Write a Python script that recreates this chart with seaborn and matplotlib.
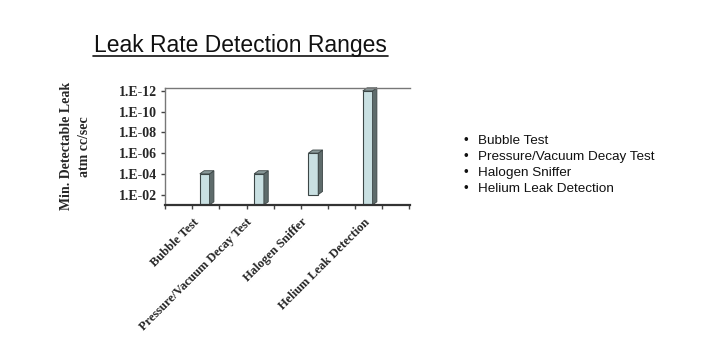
import matplotlib
matplotlib.use("Agg")
import matplotlib.pyplot as plt
import seaborn as sns
import pandas as pd
import numpy as np
from matplotlib.patches import Polygon
from matplotlib.lines import Line2D

# Datos (exponente de -log10 de la fuga mínima detectable)
metodos = ["Bubble Test", "Pressure/Vacuum Decay Test", "Halogen Sniffer", "Helium Leak Detection"]
base = [1.0, 1.0, 2.0, 1.0]      # inicio de cada barra
tope = [4.0, 4.0, 6.0, 12.0]     # 1.E-04, 1.E-04, 1.E-06, 1.E-12
y_ticks = [2, 4, 6, 8, 10, 12]
y_labels = ["1.E-02", "1.E-04", "1.E-06", "1.E-08", "1.E-10", "1.E-12"]

df = pd.DataFrame({"metodo": metodos, "base": base, "tope": tope})
df["alto"] = df["tope"] - df["base"]

sns.set_style("white")
fig = plt.figure(figsize=(7.27, 3.57), dpi=100)
ax = fig.add_axes([0.227, 0.426, 0.337, 0.328])

sns.barplot(data=df, x="metodo", y="alto", bottom=df["base"].values,
            color="#c9e0e2", edgecolor="#3c4646", linewidth=0.8,
            width=0.18, saturation=1, ax=ax)

# efecto 3D: cara lateral y tapa
dx, dy = 0.08, 0.3
for p in ax.patches:
    x0, y0 = p.get_x(), p.get_y()
    x1, y1 = x0 + p.get_width(), y0 + p.get_height()
    ax.add_patch(Polygon([(x1, y0), (x1 + dx, y0 + dy), (x1 + dx, y1 + dy), (x1, y1)],
                         closed=True, facecolor="#5e6b6b", edgecolor="#3c4646",
                         linewidth=0.6, clip_on=False))
    ax.add_patch(Polygon([(x0, y1), (x0 + dx, y1 + dy), (x1 + dx, y1 + dy), (x1, y1)],
                         closed=True, facecolor="#8a9a9a", edgecolor="#3c4646",
                         linewidth=0.6, clip_on=False))

ax.set_xlim(-0.7, 3.78)
ax.set_ylim(1.0, 12.3)
ax.set_yticks(y_ticks)
ax.set_yticklabels(y_labels, family="Liberation Serif", fontweight="bold", fontsize=10)
ax.set_xticks([-0.21, 0.76, 1.78, 2.92])
ax.set_xticklabels(metodos, rotation=45, ha="right", rotation_mode="anchor",
                   family="Liberation Serif", fontweight="bold", fontsize=9)
ax.set_xticks(np.arange(-0.73, 3.8, 0.5), minor=True)
ax.tick_params(axis="x", which="major", length=0, pad=8)
ax.tick_params(axis="x", which="minor", length=3, width=1, color="#444444",
               direction="out", bottom=True)
ax.tick_params(axis="y", length=3, width=1, color="#444444", direction="out",
               left=True, pad=3)
ax.set_xlabel("")
ax.set_ylabel("Min. Detectable Leak\natm cc/sec", family="Liberation Serif",
              fontweight="bold", fontsize=10, labelpad=20, linespacing=1.45)

for s in ["left", "top"]:
    ax.spines[s].set_color("#777777")
    ax.spines[s].set_linewidth(1.0)
ax.spines["right"].set_visible(False)
ax.spines["bottom"].set_color("#333333")
ax.spines["bottom"].set_linewidth(1.6)

# título subrayado
fig.text(0.331, 1 - 52 / 357, "Leak Rate Detection Ranges", ha="center", va="baseline",
         family="Liberation Sans", fontsize=16.5, color="#111111")
fig.add_artist(Line2D([93 / 727, 388 / 727], [1 - 56 / 357, 1 - 56 / 357],
                      color="#111111", linewidth=1.2))

# lista de viñetas a la derecha
for i, m in enumerate(metodos):
    yy = 1 - (141 + 16 * i) / 357
    fig.text(463 / 727, yy, "•", ha="left", va="center", fontsize=9.7,
             family="Liberation Sans", color="#111111")
    fig.text(478 / 727, yy, m, ha="left", va="center", fontsize=9.7,
             family="Liberation Sans", color="#111111")

fig.savefig("out.png", dpi=100)
